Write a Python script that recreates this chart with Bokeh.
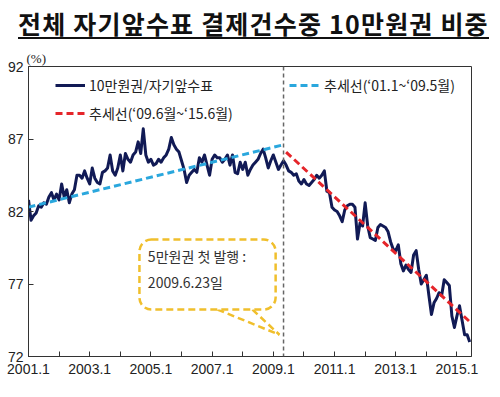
from bokeh.plotting import figure
from bokeh.models import (ColumnDataSource, FixedTicker, Legend, LegendItem, Span,
                          BoxAnnotation, Label, Title, Div, Range1d)
from bokeh.layouts import column
from bokeh.embed import file_html
from bokeh.resources import INLINE

# ---------------- data ----------------
title_text = "전체 자기앞수표 결제건수중 10만원권 비중"
unit_text = "(%)"
series_name = "10만원권/자기앞수표"
trend1_name = "추세선(‘01.1~‘09.5월)"
trend2_name = "추세선(‘09.6월~‘15.6월)"
callout_lines = ["5만원권 첫 발행 :", "2009.6.23일"]

# monthly share (%) from 2001.1 to 2015.6 (174 months)
share = [
    82.8, 81.4, 81.7, 81.9, 82.4, 82.3, 82.6, 82.5, 83.0, 83.3, 82.8, 83.2,   # 2001
    82.8, 83.9, 83.0, 83.5, 82.6, 83.2, 83.5, 84.5, 84.5, 84.3, 84.8, 84.3,   # 2002
    83.9, 85.0, 84.3, 84.0, 83.9, 84.7, 84.8, 85.0, 85.9, 84.8, 84.5, 85.0,   # 2003
    85.9, 84.8, 86.0, 85.6, 85.4, 85.9, 86.1, 86.8, 86.0, 87.7, 85.9, 85.4,   # 2004
    85.6, 85.2, 85.3, 85.6, 85.4, 85.7, 85.9, 86.3, 87.1, 86.6, 86.3, 86.1,   # 2005
    85.5, 84.9, 84.0, 84.5, 84.7, 84.9, 84.7, 85.7, 85.4, 85.9, 85.2, 84.5,   # 2006
    85.6, 85.9, 85.7, 85.7, 85.4, 85.6, 85.9, 85.2, 85.9, 84.7, 84.6, 85.4,   # 2007
    84.9, 85.4, 84.5, 84.9, 85.2, 85.4, 85.6, 86.0, 86.3, 85.7, 85.0, 85.5,   # 2008
    85.9, 85.4, 84.9, 85.2, 85.5, 85.2, 84.8, 84.7, 84.5, 84.6, 84.1, 83.9,   # 2009
    84.2, 83.9, 83.8, 84.0, 84.2, 84.5, 84.3, 84.5, 84.8, 83.4, 83.3, 82.3,   # 2010
    82.1, 82.0, 81.7, 81.3, 82.1, 82.4, 82.5, 82.5, 82.3, 80.1, 81.2, 81.0,   # 2011
    82.6, 81.0, 80.2, 80.1, 80.0, 80.9, 81.1, 81.0, 80.9, 80.6, 79.9, 79.4,   # 2012
    79.3, 79.7, 78.4, 77.9, 78.3, 78.0, 77.8, 79.0, 79.3, 78.0, 77.0, 77.3,   # 2013
    77.6, 76.2, 74.9, 75.7, 76.0, 76.4, 76.2, 77.3, 77.1, 76.9, 74.8, 74.0,   # 2014
    74.8, 75.5, 74.5, 73.5, 73.5, 73.0,                                       # 2015.1-6
]
months = list(range(len(share)))          # months since 2001.1

trend1_month = [0, 100]
trend1_value = [82.3, 86.6]
trend2_month = [101, 173]
trend2_value = [86.1, 74.4]

event_month = 100                         # dashed divider (2009.5 / 2009.6)

x_tick_months = [0, 24, 48, 72, 96, 120, 144, 168]
x_tick_labels = ["2001.1", "2003.1", "2005.1", "2007.1", "2009.1", "2011.1", "2013.1", "2015.1"]
x_minor_months = [12, 36, 60, 84, 108, 132, 156]
y_ticks = [72, 77, 82, 87, 92]

# callout geometry (data units)
box_left, box_right, box_top, box_bottom = 43.5, 96.9, 80.07, 75.24
tail_base = [74.1, 87.8]
tail_tip = (98.4, 73.5)
text_x, text_y = 46.8, [78.95, 77.15]

# ---------------- style ----------------
FONT = "Noto Sans CJK KR"
NAVY = "#111a55"
SKY = "#2aa7dd"
RED = "#e5252a"
GOLD = "#f0bf2c"

p = figure(width=484, height=344, output_backend="svg", toolbar_location=None,
           x_range=Range1d(0, 173.7), y_range=Range1d(72, 92),
           min_border_left=28, min_border_right=13, min_border_top=20, min_border_bottom=34)
p.background_fill_color = "white"
p.border_fill_color = "white"
p.outline_line_color = "#333333"
p.outline_line_width = 1
p.xgrid.visible = False
p.ygrid.visible = False

p.add_layout(Title(text=unit_text, align="left", text_font="Liberation Serif",
                   text_font_size="13px", text_font_style="normal", text_color="#222222",
                   standoff=1, offset=-2), "above")

src = ColumnDataSource(dict(m=months, v=share))
r_main = p.line("m", "v", source=src, line_color=NAVY, line_width=3, line_join="round")
r_t1 = p.line(trend1_month, trend1_value, line_color=SKY, line_width=3, line_dash="7 4")
r_t2 = p.line(trend2_month, trend2_value, line_color=RED, line_width=3, line_dash="7 4")

p.add_layout(Span(location=event_month, dimension="height", line_color="#666666",
                  line_width=1.5, line_dash="4 3"))

# callout
p.add_layout(BoxAnnotation(left=box_left, right=box_right, top=box_top, bottom=box_bottom,
                           fill_color="white", fill_alpha=1.0, line_color=GOLD, line_alpha=1.0,
                           line_width=2.5, line_dash="7 4", border_radius=12, level="overlay"))
gap = p.line(tail_base, [box_bottom, box_bottom], line_color="white", line_width=5)
gap.level = "overlay"
for bx in tail_base:
    t = p.line([bx, tail_tip[0]], [box_bottom, tail_tip[1]], line_color=GOLD,
               line_width=2.5, line_dash="7 4")
    t.level = "overlay"
for ty, txt in zip(text_y, callout_lines):
    p.add_layout(Label(x=text_x, y=ty, text=txt, text_font=FONT, text_font_size="14px",
                       text_color="#333333", text_baseline="middle", level="overlay"))

# axes
p.xaxis.ticker = FixedTicker(ticks=x_tick_months, minor_ticks=x_minor_months)
p.xaxis.major_label_overrides = {m: lab for m, lab in zip(x_tick_months, x_tick_labels)}
p.yaxis.ticker = FixedTicker(ticks=y_ticks)
for ax in (p.xaxis[0], p.yaxis[0]):
    ax.axis_line_color = "#333333"
    ax.major_tick_line_color = "#333333"
    ax.minor_tick_line_color = "#333333"
    ax.major_tick_in = 5
    ax.major_tick_out = 0
    ax.minor_tick_in = 5
    ax.minor_tick_out = 0
    ax.major_label_text_font = "Liberation Sans"
    ax.major_label_text_font_size = "14px"
    ax.major_label_text_color = "#222222"
p.xaxis.major_label_standoff = 7
p.yaxis.major_label_standoff = 5

# legends
leg1 = Legend(items=[LegendItem(label=series_name, renderers=[r_main]),
                     LegendItem(label=trend2_name, renderers=[r_t2])],
              location=(22, 228), margin=0, padding=5, spacing=8,
              glyph_width=30, glyph_height=20, label_height=20, label_standoff=4,
              label_text_font=FONT, label_text_font_size="14px", label_text_color="#222222",
              background_fill_alpha=0, border_line_alpha=0)
leg2 = Legend(items=[LegendItem(label=trend1_name, renderers=[r_t1])],
              location=(256, 256), margin=0, padding=5, spacing=8,
              glyph_width=30, glyph_height=20, label_height=20, label_standoff=5,
              label_text_font=FONT, label_text_font_size="14px", label_text_color="#222222",
              background_fill_alpha=0, border_line_alpha=0)
p.add_layout(leg1)
p.add_layout(leg2)

title_div = Div(text=(f'<div style="font-family:\'{FONT}\';font-weight:bold;font-size:25px;'
                      'color:#111;padding-left:13px;padding-top:1px;white-space:nowrap;">'
                      '<span style="display:inline-block;line-height:1.0;'
                      'border-bottom:2px solid #111;padding-bottom:1px;letter-spacing:1.2px;">'
                      f'{title_text}</span></div>'),
                width=484, height=36)

layout = column(title_div, p, spacing=0)
open("out.html", "w").write(file_html(layout, INLINE))
